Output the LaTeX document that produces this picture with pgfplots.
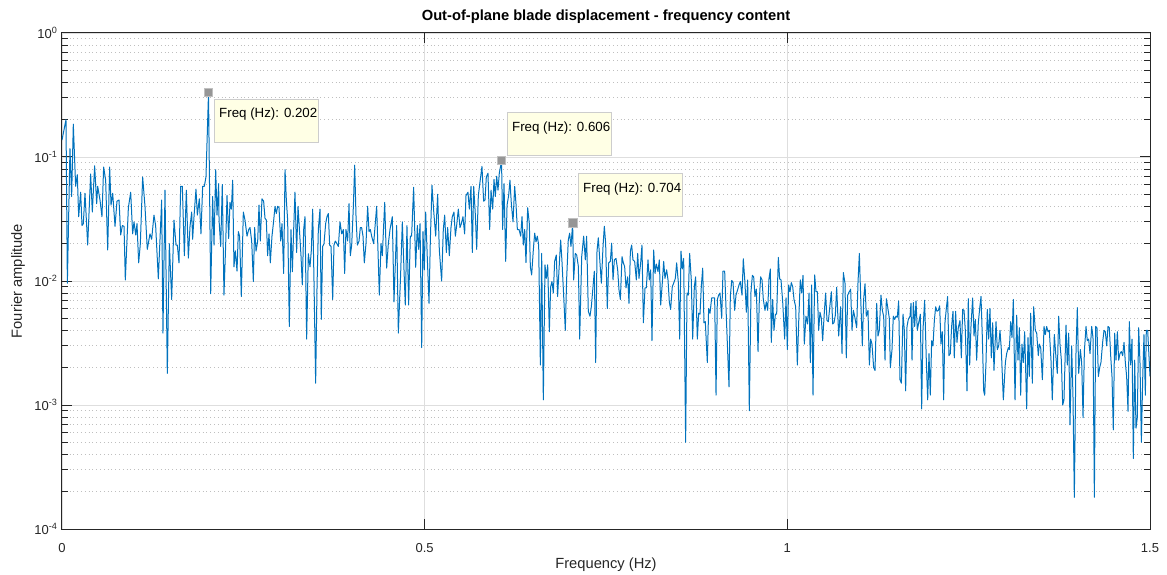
\documentclass[border=0pt]{standalone}
\usepackage{fontspec}
\setmainfont{Liberation Sans}
\usepackage{pgfplots}
\usepackage{pgfplotstable}
\pgfplotsset{compat=1.18}
\definecolor{mblue}{RGB}{0,114,189}
\definecolor{axgray}{RGB}{38,38,38}
\definecolor{tipfill}{RGB}{255,255,229}
\definecolor{tipedge}{RGB}{205,205,205}
\definecolor{tipmark}{RGB}{150,150,150}

\pgfplotstableread{
f a
0 0.137
0.0055 0.20
0.0074 0.0096
0.011 0.117
0.0133 0.048
0.0156 0.184
0.0188 0.058
0.0211 0.072
0.023 0.033
0.0257 0.052
0.0276 0.028
0.0294 0.029
0.0317 0.051
0.0354 0.0195
0.0395 0.073
0.0418 0.036
0.045 0.085
0.0478 0.042
0.0492 0.058
0.0524 0.045
0.0551 0.033
0.0574 0.083
0.0602 0.065
0.063 0.0178
0.0657 0.083
0.0676 0.041
0.0699 0.051
0.0731 0.0276
0.0758 0.044
0.0786 0.045
0.0809 0.0235
0.0832 0.028
0.0855 0.0276
0.0873 0.0102
0.0915 0.039
0.0947 0.052
0.0974 0.024
0.0993 0.030
0.1016 0.0235
0.1034 0.029
0.1057 0.014
0.108 0.020
0.1112 0.069
0.1144 0.040
0.1176 0.018
0.1213 0.024
0.1236 0.0217
0.1268 0.034
0.1291 0.028
0.1328 0.0104
0.1374 0.045
0.1392 0.0038
0.142 0.054
0.1452 0.0018
0.148 0.020
0.1512 0.0071
0.1544 0.031
0.1572 0.0195
0.159 0.0195
0.1613 0.014
0.1636 0.058
0.1659 0.058
0.1687 0.016
0.1714 0.054
0.1742 0.0153
0.1765 0.0276
0.1788 0.036
0.1801 0.0217
0.182 0.033
0.1847 0.055
0.1866 0.034
0.1893 0.046
0.1916 0.024
0.1939 0.058
0.1962 0.058
0.1985 0.069
0.202 0.33
0.205 0.0079
0.2077 0.048
0.2096 0.0195
0.2119 0.079
0.2137 0.034
0.216 0.061
0.2165 0.031
0.2188 0.019
0.2210 0.060
0.2233 0.0077
0.2256 0.019
0.2275 0.049
0.2298 0.022
0.2316 0.043
0.2335 0.038
0.2353 0.065
0.2371 0.013
0.2390 0.0175
0.2413 0.012
0.2431 0.025
0.2449 0.023
0.2472 0.0075
0.2500 0.036
0.2523 0.031
0.2551 0.023
0.2574 0.026
0.2592 0.027
0.2615 0.021
0.2638 0.0099
0.2656 0.027
0.2675 0.0174
0.2698 0.021
0.2716 0.041
0.2734 0.021
0.2757 0.046
0.2780 0.044
0.2799 0.032
0.2817 0.031
0.2835 0.016
0.2854 0.024
0.2872 0.014
0.2895 0.023
0.2914 0.029
0.2937 0.040
0.2955 0.035
0.2973 0.040
0.2992 0.039
0.3015 0.021
0.3033 0.029
0.3056 0.0115
0.3075 0.079
0.3093 0.045
0.3111 0.031
0.3134 0.0043
0.3157 0.026
0.3176 0.0119
0.3194 0.026
0.3212 0.052
0.3235 0.017
0.3254 0.040
0.3277 0.024
0.3295 0.016
0.3313 0.0093
0.3332 0.026
0.3350 0.033
0.3373 0.0034
0.3396 0.0166
0.3419 0.013
0.3438 0.0178
0.3456 0.038
0.3474 0.0102
0.3497 0.0015
0.3516 0.009
0.3534 0.026
0.3557 0.038
0.3575 0.0049
0.3594 0.019
0.3612 0.020
0.3635 0.029
0.3653 0.033
0.3672 0.035
0.3690 0.0195
0.3709 0.019
0.3732 0.0071
0.3750 0.0195
0.3768 0.021
0.3791 0.020
0.3810 0.019
0.3833 0.030
0.3856 0.024
0.3879 0.026
0.3897 0.0115
0.3915 0.026
0.3938 0.021
0.3957 0.042
0.3975 0.016
0.3994 0.0195
0.4017 0.040
0.4035 0.086
0.4053 0.034
0.4072 0.0195
0.4095 0.021
0.4113 0.027
0.4131 0.027
0.4150 0.023
0.4168 0.014
0.4191 0.020
0.4214 0.040
0.4233 0.025
0.4251 0.026
0.4269 0.023
0.4297 0.020
0.4338 0.040
0.4375 0.0077
0.4398 0.020
0.4416 0.016
0.4449 0.043
0.4476 0.0127
0.4499 0.020
0.4522 0.026
0.4554 0.033
0.4577 0.0068
0.4614 0.028
0.4637 0.0038
0.4669 0.0115
0.4692 0.030
0.4715 0.0123
0.4733 0.0064
0.4756 0.028
0.4779 0.0064
0.4802 0.023
0.4820 0.023
0.4848 0.057
0.4876 0.0129
0.4899 0.028
0.4917 0.018
0.4936 0.029
0.4959 0.0029
0.4977 0.025
0.4995 0.0123
0.5014 0.036
0.5037 0.015
0.5060 0.0066
0.5078 0.021
0.5101 0.059
0.5124 0.037
0.5152 0.023
0.5179 0.050
0.5202 0.0178
0.5234 0.010
0.5257 0.026
0.5276 0.034
0.5299 0.017
0.5317 0.027
0.5340 0.016
0.5363 0.027
0.5381 0.033
0.5404 0.036
0.5423 0.023
0.5441 0.028
0.5464 0.038
0.5487 0.027
0.5506 0.029
0.5528 0.033
0.5551 0.024
0.5570 0.049
0.5597 0.052
0.5616 0.038
0.5639 0.058
0.5657 0.017
0.5676 0.058
0.5699 0.034
0.5717 0.018
0.5740 0.049
0.5763 0.063
0.5790 0.084
0.5813 0.044
0.5832 0.045
0.5850 0.069
0.5873 0.074
0.5896 0.026
0.5915 0.054
0.5938 0.038
0.5956 0.066
0.5974 0.048
0.5993 0.070
0.6011 0.054
0.6029 0.074
0.606 0.093
0.6075 0.026
0.6094 0.061
0.6117 0.0144
0.6136 0.041
0.6158 0.049
0.6176 0.065
0.6195 0.042
0.6218 0.030
0.6241 0.058
0.6259 0.042
0.6278 0.026
0.6301 0.026
0.6324 0.023
0.6342 0.033
0.6360 0.0195
0.6379 0.026
0.6397 0.0141
0.6420 0.039
0.6443 0.029
0.6457 0.013
0.6475 0.0112
0.6498 0.0178
0.6517 0.0243
0.6535 0.0207
0.6553 0.023
0.6572 0.0195
0.6595 0.0021
0.6613 0.0167
0.6636 0.0011
0.6659 0.0135
0.6677 0.0105
0.6696 0.0135
0.6719 0.0039
0.6737 0.009
0.6755 0.0099
0.6774 0.008
0.6792 0.0144
0.6815 0.0162
0.6833 0.0075
0.6852 0.0123
0.6875 0.0214
0.6893 0.0144
0.6916 0.0077
0.6939 0.004
0.6957 0.0102
0.6980 0.0214
0.6999 0.0243
0.7017 0.019
0.704 0.029
0.7054 0.0102
0.7077 0.0167
0.7096 0.0162
0.7119 0.0131
0.7137 0.0034
0.7165 0.0157
0.7192 0.023
0.7215 0.0148
0.7233 0.023
0.7256 0.0057
0.7279 0.0052
0.7298 0.0062
0.7321 0.009
0.7339 0.012
0.7358 0.0022
0.7376 0.0174
0.7394 0.0223
0.7417 0.014
0.7436 0.0096
0.7459 0.019
0.7477 0.0276
0.7495 0.0202
0.7518 0.006
0.7537 0.014
0.7560 0.0144
0.7578 0.0202
0.7597 0.0102
0.7615 0.0148
0.7638 0.0152
0.7661 0.0123
0.7679 0.0085
0.7698 0.0071
0.7721 0.0157
0.7739 0.014
0.7757 0.0131
0.7776 0.0088
0.7799 0.0108
0.7817 0.0066
0.7836 0.0174
0.7854 0.0195
0.7872 0.0148
0.7895 0.0144
0.7918 0.0102
0.7937 0.0167
0.7955 0.0105
0.7978 0.014
0.7996 0.0195
0.8015 0.0046
0.8038 0.0088
0.8056 0.0088
0.8079 0.0148
0.8097 0.0102
0.8116 0.0123
0.8134 0.0033
0.8157 0.0178
0.8176 0.0115
0.8194 0.0137
0.8217 0.0119
0.8235 0.0148
0.8254 0.0064
0.8277 0.0098
0.8295 0.0144
0.8313 0.0105
0.8336 0.0123
0.8355 0.0102
0.8373 0.0068
0.8391 0.0059
0.8414 0.009
0.8433 0.0096
0.8456 0.0105
0.8474 0.014
0.8497 0.0098
0.8516 0.0034
0.8534 0.0174
0.8552 0.0125
0.8571 0.0152
0.8598 0.0005
0.8617 0.008
0.8635 0.0077
0.8653 0.0167
0.8676 0.0102
0.8695 0.0034
0.8718 0.009
0.8736 0.0108
0.8759 0.0034
0.8778 0.0055
0.8796 0.0054
0.8814 0.009
0.8833 0.0127
0.8851 0.0046
0.8869 0.0047
0.8897 0.0022
0.8915 0.006
0.8934 0.0055
0.8957 0.0073
0.8984 0.0073
0.8998 0.0073
0.9017 0.0012
0.9035 0.0071
0.9053 0.0077
0.9072 0.008
0.9095 0.005
0.9113 0.012
0.9136 0.012
0.9164 0.0043
0.9196 0.0014
0.9214 0.0075
0.9233 0.0101
0.9251 0.0098
0.9274 0.0058
0.9292 0.0077
0.9315 0.0085
0.9334 0.0093
0.9352 0.0099
0.9375 0.0077
0.9393 0.0151
0.9416 0.0096
0.9435 0.0056
0.9453 0.0102
0.9476 0.0009
0.9499 0.0082
0.9518 0.0111
0.9536 0.0108
0.9554 0.0075
0.9573 0.0086
0.9596 0.0027
0.9614 0.0071
0.9632 0.0108
0.9651 0.0102
0.9669 0.0071
0.9692 0.0058
0.9710 0.0068
0.9729 0.0058
0.9747 0.0104
0.9766 0.0125
0.9779 0.0032
0.9798 0.0071
0.9816 0.004
0.9835 0.0054
0.9853 0.0054
0.9876 0.0155
0.9894 0.0104
0.9913 0.0102
0.9936 0.0068
0.9963 0.0034
0.9982 0.0073
1.0000 0.0028
1.0018 0.0093
1.0037 0.0082
1.0055 0.0097
1.0074 0.009
1.0092 0.0071
1.0115 0.0062
1.0138 0.0021
1.0161 0.0056
1.0179 0.0102
1.0198 0.008
1.0216 0.0111
1.0234 0.0031
1.0257 0.0052
1.0280 0.0045
1.0299 0.008
1.0317 0.0022
1.0335 0.0093
1.0354 0.0012
1.0377 0.0112
1.0395 0.0082
1.0414 0.0082
1.0432 0.004
1.0450 0.0056
1.0469 0.005
1.0487 0.0033
1.0510 0.0056
1.0528 0.008
1.0547 0.0048
1.0565 0.0047
1.0588 0.0064
1.0607 0.0082
1.0625 0.0045
1.0643 0.0046
1.0662 0.0053
1.0680 0.0089
1.0708 0.0036
1.0735 0.0062
1.0754 0.0026
1.0772 0.0117
1.0795 0.0096
1.0813 0.0024
1.0832 0.0077
1.0850 0.0081
1.0873 0.0086
1.0892 0.004
1.0910 0.0058
1.0928 0.0052
1.0956 0.0042
1.0974 0.0096
1.0993 0.0167
1.1011 0.0075
1.1034 0.003
1.1052 0.0071
1.1071 0.0095
1.1089 0.0052
1.1112 0.0058
1.1131 0.0021
1.1149 0.0034
1.1167 0.0031
1.1190 0.002
1.1209 0.0019
1.1232 0.0066
1.1250 0.0036
1.1268 0.004
1.1291 0.0077
1.1310 0.0058
1.1328 0.0052
1.1347 0.0023
1.1365 0.0072
1.1383 0.0062
1.1406 0.005
1.1420 0.002
1.1443 0.0028
1.1461 0.0052
1.1480 0.0049
1.1498 0.0052
1.1516 0.0051
1.1535 0.0069
1.1553 0.0016
1.1572 0.0015
1.1595 0.0054
1.1613 0.004
1.1631 0.0013
1.1650 0.0043
1.1668 0.0049
1.1691 0.0052
1.1705 0.0066
1.1719 0.0023
1.1737 0.0067
1.1756 0.0043
1.1774 0.0069
1.1792 0.004
1.1811 0.0046
1.1834 0.0054
1.1852 0.00093
1.1870 0.004
1.1893 0.007
1.1916 0.0023
1.1935 0.0011
1.1953 0.0026
1.1971 0.0012
1.1990 0.0033
1.2008 0.003
1.2027 0.0048
1.2045 0.0062
1.2063 0.0057
1.2082 0.0058
1.2100 0.0063
1.2118 0.0031
1.2137 0.0039
1.2155 0.0011
1.2173 0.0046
1.2192 0.006
1.2210 0.0075
1.2228 0.0025
1.2247 0.0026
1.2265 0.0043
1.2284 0.0057
1.2302 0.0024
1.2320 0.0057
1.2339 0.0032
1.2357 0.0042
1.2380 0.0048
1.2399 0.0024
1.2417 0.0059
1.2436 0.0058
1.2454 0.004
1.2477 0.0013
1.2495 0.0072
1.2514 0.0021
1.2532 0.0043
1.2555 0.0073
1.2574 0.0036
1.2592 0.0049
1.2610 0.0023
1.2633 0.0046
1.2652 0.006
1.2670 0.0075
1.2688 0.0036
1.2707 0.0013
1.2721 0.0012
1.2739 0.0022
1.2757 0.0059
1.2776 0.0034
1.2794 0.006
1.2812 0.0024
1.2831 0.0046
1.2849 0.0019
1.2877 0.0047
1.2895 0.0028
1.2914 0.003
1.2932 0.004
1.2950 0.0028
1.2978 0.0011
1.3006 0.0022
1.3024 0.0026
1.3047 0.0029
1.3061 0.0028
1.3079 0.0047
1.3097 0.0035
1.3116 0.0071
1.3139 0.0011
1.3162 0.0053
1.3180 0.0023
1.3199 0.0042
1.3217 0.0012
1.3235 0.0031
1.3254 0.0022
1.3272 0.0039
1.3300 0.00093
1.3318 0.0035
1.3336 0.0017
1.3355 0.0055
1.3378 0.0015
1.3396 0.0062
1.3419 0.004
1.3438 0.0038
1.3460 0.0025
1.3474 0.0031
1.3493 0.0029
1.3516 0.0016
1.3539 0.0043
1.3557 0.0037
1.3575 0.0043
1.3594 0.0039
1.3612 0.004
1.3635 0.0023
1.3653 0.0011
1.3681 0.0037
1.3704 0.0024
1.3722 0.0018
1.3741 0.0052
1.3759 0.0031
1.3778 0.0023
1.3796 0.001
1.3814 0.0011
1.3842 0.0044
1.3860 0.0021
1.3879 0.0038
1.3897 0.00069
1.3920 0.003
1.3938 0.0012
1.3957 0.00018
1.3980 0.0027
1.3998 0.0061
1.4017 0.0018
1.4040 0.0028
1.4058 0.0022
1.4077 0.00079
1.4095 0.0027
1.4118 0.0043
1.4136 0.0033
1.4154 0.0034
1.4173 0.0026
1.4196 0.0043
1.4214 0.0035
1.4233 0.00018
1.4251 0.0043
1.4269 0.0042
1.4288 0.0017
1.4306 0.002
1.4324 0.0022
1.4347 0.0032
1.4366 0.004
1.4384 0.0039
1.4403 0.003
1.4421 0.0043
1.4439 0.0042
1.4458 0.0025
1.4476 0.0017
1.4494 0.00063
1.4513 0.0038
1.4531 0.0023
1.4550 0.0039
1.4568 0.0023
1.4586 0.0026
1.4605 0.0027
1.4623 0.0025
1.4642 0.0032
1.4660 0.0022
1.4678 0.0017
1.4697 0.00089
1.4715 0.0047
1.4733 0.0021
1.4752 0.0034
1.4770 0.00037
1.4789 0.0023
1.4807 0.00065
1.4825 0.00079
1.4844 0.0042
1.4862 0.0022
1.4881 0.0005
1.4899 0.0016
1.4917 0.0037
1.4936 0.0012
1.4949 0.004
1.4968 0.004
1.5 0.0017
}\spec

\pgfplotstableread{
f a
0.202 0.334
0.606 0.094
0.704 0.0294
}\tips

\begin{document}
\begin{tikzpicture}
\useasboundingbox (-62pt,-46pt) rectangle (1105pt,529pt);
\begin{axis}[
  at={(0pt,0pt)}, anchor=south west,
  scale only axis, width=1088pt, height=496pt,
  xmin=0, xmax=1.5, ymin=1e-4, ymax=1,
  ymode=log,
  xtick={0,0.5,1,1.5}, xticklabels={0,0.5,1,1.5},
  ytick={1e-4,1e-3,1e-2,1e-1,1},
  yticklabels={10\textsuperscript{-4},10\textsuperscript{-3},10\textsuperscript{-2},10\textsuperscript{-1},10\textsuperscript{0}},
  minor ytick={2e-4,3e-4,4e-4,5e-4,6e-4,7e-4,8e-4,9e-4,
               2e-3,3e-3,4e-3,5e-3,6e-3,7e-3,8e-3,9e-3,
               2e-2,3e-2,4e-2,5e-2,6e-2,7e-2,8e-2,9e-2,
               2e-1,3e-1,4e-1,5e-1,6e-1,7e-1,8e-1,9e-1},
  tick align=inside,
  major tick length=10pt, minor tick length=6pt,
  xmajorgrids, ymajorgrids, yminorgrids,
  major grid style={draw=black!13, line width=0.9pt},
  minor grid style={draw=black!25, line width=0.8pt, dash pattern=on 0.8pt off 3pt},
  axis line style={draw=axgray, line width=1pt},
  every tick/.style={draw=axgray, line width=1pt},
  tick label style={font=\fontsize{13}{15}\selectfont, text=axgray},
  xticklabel style={yshift=-11pt},
  yticklabel style={xshift=-1pt},
  xlabel={Frequency (Hz)},
  ylabel={Fourier amplitude},
  label style={font=\fontsize{14.7}{17}\selectfont, text=axgray},
  xlabel style={at={(axis description cs:0.5,-0.0725)}, anchor=center},
  ylabel style={at={(axis description cs:-0.0404,0.5)}, anchor=center, rotate=0},
  title={Out-of-plane blade displacement - frequency content},
  title style={font=\bfseries\fontsize{14.7}{17}\selectfont, at={(axis description cs:0.5,1.0202)}, anchor=center},
]
\addplot[color=mblue, line width=1pt, line join=round, mark=none] table[x=f,y=a] {\spec};
\addplot[only marks, mark=square*, mark size=4.2pt, mark options={fill=tipmark, draw=tipmark!60!white, line width=0.6pt}] table[x=f,y=a] {\tips};

\node[draw=tipedge, fill=tipfill, line width=1.2pt, anchor=north west, minimum width=104pt, minimum height=43pt, inner sep=0pt] (b1) at (axis cs:0.2096,0.2936) {};
\node[anchor=base west, inner sep=0pt, font=\fontsize{13.3}{16}\selectfont] at ([xshift=5pt,yshift=-19pt]b1.north west) {Freq (Hz): 0.202};

\node[draw=tipedge, fill=tipfill, line width=1.2pt, anchor=north west, minimum width=104pt, minimum height=43pt, inner sep=0pt] (b2) at (axis cs:0.6135,0.2306) {};
\node[anchor=base west, inner sep=0pt, font=\fontsize{13.3}{16}\selectfont] at ([xshift=5pt,yshift=-19pt]b2.north west) {Freq (Hz): 0.606};

\node[draw=tipedge, fill=tipfill, line width=1.2pt, anchor=north west, minimum width=104pt, minimum height=43pt, inner sep=0pt] (b3) at (axis cs:0.7114,0.0743) {};
\node[anchor=base west, inner sep=0pt, font=\fontsize{13.3}{16}\selectfont] at ([xshift=5pt,yshift=-19pt]b3.north west) {Freq (Hz): 0.704};
\end{axis}
\end{tikzpicture}
\end{document}
